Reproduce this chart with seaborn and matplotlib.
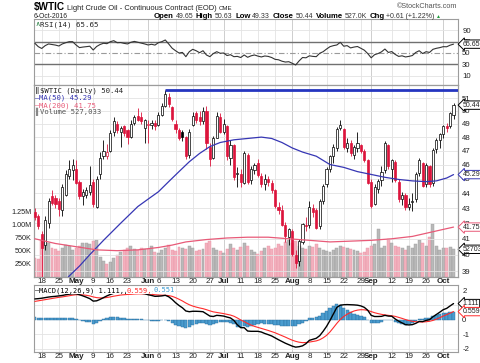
import numpy as np
import pandas as pd
import matplotlib
matplotlib.use("Agg")
import matplotlib.pyplot as plt
import matplotlib.transforms as mtransforms
from matplotlib.ticker import NullLocator, NullFormatter
import seaborn as sns

# ---- values ----
holidays = ["2016-05-30", "2016-07-04", "2016-09-05"]
dates = pd.bdate_range("2016-04-14", "2016-10-06", freq="C", holidays=holidays)

prior_close = 43.0
open_ = [42.75, 42.50, 41.30, 40.60, 42.00, 43.80, 43.65, 43.50, 42.90, 43.90, 45.20, 45.60,
         45.70, 44.80, 43.80, 43.90, 44.10, 44.80, 43.10, 45.30, 46.60, 46.60, 47.00, 48.40, 49.00, 48.35, 48.80,
         48.50, 48.00, 49.10, 49.60, 49.50, 48.70,
         48.90, 48.90, 49.10, 48.90, 49.70, 50.40, 51.10, 50.30, 49.00, 48.50, 48.35, 48.00, 46.70, 48.90, 49.80,
         49.50, 49.20, 50.00, 47.30, 46.50, 47.95, 49.50,
         48.40, 48.80, 46.50, 47.40, 45.30, 45.30, 44.70, 46.70, 44.90, 45.60, 46.10, 45.20, 44.60, 45.00, 44.70,
         44.20, 43.10, 42.90, 41.90, 41.10,
         41.50, 40.00, 39.60, 40.80, 41.90, 41.90, 43.00, 42.90, 41.80, 43.50, 44.60, 45.70, 46.60, 47.20, 48.70,
         48.60, 47.20, 47.60, 46.70, 47.20, 47.40, 47.00, 46.30,
         44.80, 43.30, 44.30, 44.90, 45.60, 47.40, 45.70, 46.20, 44.80, 43.60, 43.90, 43.10, 43.40, 43.60, 45.40,
         46.10, 44.60, 45.90, 44.70, 47.10, 47.80,
         48.20, 48.80, 48.80, 49.65]
high = [43.00, 42.60, 41.50, 42.50, 43.70, 44.20, 43.90, 43.70, 44.60, 45.60, 46.30, 46.40,
        46.30, 44.90, 44.30, 44.40, 45.90, 45.00, 45.20, 46.90, 47.80, 47.50, 48.50, 49.50, 49.20, 48.80, 48.90,
        48.60, 49.30, 49.70, 50.20, 49.90, 49.40,
        49.30, 49.30, 49.30, 49.90, 50.60, 51.67, 51.40, 50.40, 49.30, 48.70, 48.50, 48.10, 48.60, 49.90, 50.00,
        50.00, 50.30, 50.40, 47.60, 48.10, 49.90, 49.80,
        49.40, 48.90, 47.80, 47.50, 45.80, 45.70, 47.00, 46.80, 45.90, 46.10, 46.40, 45.40, 45.30, 45.20, 44.90,
        44.30, 43.40, 43.20, 42.10, 41.70,
        41.60, 40.30, 41.00, 42.00, 42.40, 43.50, 43.30, 43.00, 43.60, 44.60, 45.80, 46.70, 47.50, 48.75, 49.30,
        48.70, 47.90, 47.80, 47.40, 48.40, 47.50, 47.10, 46.40,
        45.00, 44.60, 45.00, 45.90, 47.70, 47.50, 46.40, 46.30, 45.00, 44.10, 44.00, 43.70, 44.00, 45.50, 46.50,
        46.20, 46.10, 46.00, 47.20, 47.90, 48.30,
        48.90, 49.10, 49.90, 50.63]
low = [42.20, 41.60, 37.60, 40.30, 41.70, 43.20, 43.00, 42.50, 42.50, 43.80, 45.00, 44.90,
       44.60, 43.60, 43.20, 43.70, 43.90, 43.10, 43.00, 45.00, 46.40, 46.40, 46.90, 48.10, 48.30, 47.30, 48.10,
       47.50, 47.90, 48.90, 49.20, 49.00, 47.60,
       47.60, 48.60, 48.50, 48.80, 49.60, 50.30, 50.30, 49.20, 48.30, 47.80, 47.70, 46.40, 46.50, 48.80, 49.10,
       48.90, 49.00, 47.10, 45.90, 46.40, 47.90, 48.30,
       48.20, 46.30, 46.00, 44.90, 44.40, 44.40, 44.60, 44.60, 44.60, 45.30, 45.10, 44.40, 44.20, 44.50, 44.00,
       43.00, 42.60, 41.80, 40.80, 40.60,
       39.90, 39.20, 39.30, 40.70, 41.50, 41.70, 42.40, 41.60, 41.60, 43.30, 44.40, 45.50, 46.10, 47.00, 48.50,
       47.10, 46.90, 46.60, 46.40, 46.90, 46.80, 46.20, 44.60,
       43.00, 43.20, 44.00, 44.50, 45.40, 45.70, 44.80, 44.80, 43.40, 43.20, 42.90, 42.90, 42.80, 43.40, 45.20,
       44.40, 44.40, 44.40, 44.50, 46.80, 47.20,
       47.90, 48.40, 48.70, 49.33]
close = [42.40, 41.80, 40.40, 42.20, 43.50, 43.35, 43.25, 42.95, 44.40, 45.30, 45.70, 46.00,
         44.70, 43.80, 44.10, 44.20, 44.55, 43.30, 45.00, 46.50, 47.00, 46.90, 48.30, 49.20, 48.50, 48.65, 48.30,
         48.00, 49.00, 49.50, 49.30, 49.20, 49.30,
         49.00, 49.10, 48.80, 49.70, 50.40, 51.30, 50.50, 49.40, 48.60, 47.90, 48.00, 46.60, 48.40, 49.60, 49.30,
         49.20, 50.00, 47.60, 46.40, 47.90, 49.60, 48.40,
         49.00, 46.60, 47.40, 45.15, 45.40, 44.75, 46.80, 44.75, 45.70, 45.95, 45.25, 44.65, 44.95, 44.75, 44.20,
         43.15, 42.90, 41.90, 41.15, 41.60,
         40.05, 39.50, 40.85, 41.95, 41.80, 43.05, 42.75, 41.70, 43.50, 44.50, 45.70, 46.60, 47.30, 48.60, 48.90,
         47.30, 47.60, 46.80, 47.30, 47.60, 47.00, 46.35, 44.70,
         43.15, 44.45, 44.85, 45.50, 47.60, 45.90, 46.30, 44.90, 43.60, 43.90, 43.05, 43.30, 43.45, 45.35, 46.30,
         44.50, 45.95, 44.65, 47.05, 47.80, 48.25,
         48.80, 48.70, 49.83, 50.44]
volume_k = [360, 340, 700, 660, 640, 560, 540, 500, 560, 610, 590, 520,
            560, 590, 640, 650, 620, 690, 700, 380, 300, 240, 280, 360, 420, 480, 520, 560, 600, 540, 520, 560, 540,
            540, 600, 480, 460, 520, 560, 610, 520, 500, 580, 560, 540, 600, 560, 500, 520, 540, 640, 680, 560, 520, 500,
            460, 540, 620, 560, 520, 580, 640, 600, 520, 480, 440, 500, 560, 600, 540, 560, 620, 600, 660, 700,
            640, 680, 600, 560, 540, 600, 580, 620, 560, 520, 500, 480, 520, 560, 600, 580, 560, 540, 520, 500, 460, 480, 560,
            600, 620, 915, 560, 600, 720, 650, 600, 580, 560, 520, 590, 560, 620, 700, 650, 600, 760, 1010, 600, 520,
            560, 560, 570, 527.033]
rsi = [67.2, 61.2, 58, 63, 66, 65, 64, 62.4, 66, 68.2, 70, 70,
       64.2, 59.5, 60.5, 61.2, 62, 55.3, 61.5, 65, 67.2, 66.5, 70, 71.8, 68.2, 68.5, 67, 66, 69, 70.5, 69, 67.5, 66,
       64.2, 65.4, 64, 68.2, 70, 73, 66, 58.5, 54, 50, 51, 43.5, 52.3, 56.5, 54, 50.5, 54, 46.5, 43.5, 49, 52.3, 49.5,
       50, 45.5, 47, 43.5, 44, 42, 46.5, 42.4, 45, 46.5, 44.5, 43, 44.7, 44, 42, 38.8, 38, 35.5, 34, 34.6,
       31.8, 28.8, 36, 42, 41.5, 45, 44, 43.5, 49.5, 52.3, 57, 61.2, 63, 64.2, 68.9, 62, 63, 59, 60.5, 61.5, 58.3, 55, 49,
       41.5, 47, 49, 52, 57, 51, 52.5, 47.5, 44, 45, 43, 44, 45.5, 51, 54, 49, 52.3, 51, 56.5, 58.3, 59.5,
       61.2, 61, 63.8, 65.65]
macd = [1.43, 1.45, 1.48, 1.52, 1.56, 1.59, 1.61, 1.64, 1.67, 1.72, 1.76, 1.79,
        1.79, 1.72, 1.64, 1.55, 1.45, 1.28, 1.30, 1.40, 1.52, 1.64, 1.74, 1.82, 1.84, 1.85, 1.84, 1.82, 1.83, 1.85,
        1.84, 1.82, 1.79,
        1.72, 1.67, 1.61, 1.62, 1.64, 1.68, 1.58, 1.40, 1.17, 0.98, 0.82, 0.60, 0.55, 0.58, 0.58, 0.57, 0.55, 0.40,
        0.25, 0.22, 0.30, 0.28,
        0.25, 0.18, 0.12, -0.05, -0.35, -0.55, -0.55, -0.78, -0.80, -0.80, -0.80, -0.85, -0.95, -1.03, -1.12, -1.25,
        -1.38, -1.50, -1.62, -1.72,
        -1.82, -1.89, -1.86, -1.80, -1.65, -1.42, -1.35, -1.28, -1.10, -0.80, -0.46, -0.05, 0.40, 0.85, 1.00, 1.03,
        1.04, 1.03, 1.02, 1.00, 0.95, 0.85, 0.65,
        0.30, 0.22, 0.22, 0.23, 0.30, 0.25, 0.24, 0.05, -0.10, -0.22, -0.34, -0.36, -0.34, -0.25, -0.12, -0.13, -0.05,
        0.00, 0.20, 0.36, 0.52,
        0.69, 0.78, 0.95, 1.111]
signal = [1.26, 1.30, 1.34, 1.38, 1.42, 1.46, 1.50, 1.54, 1.57, 1.61, 1.65, 1.69,
          1.72, 1.72, 1.71, 1.68, 1.64, 1.57, 1.52, 1.50, 1.50, 1.53, 1.57, 1.62, 1.66, 1.70, 1.72, 1.74, 1.75, 1.77,
          1.78, 1.78, 1.78,
          1.77, 1.75, 1.72, 1.70, 1.69, 1.68, 1.66, 1.61, 1.52, 1.41, 1.29, 1.15, 1.03, 0.94, 0.87, 0.81, 0.76, 0.69,
          0.61, 0.54, 0.50, 0.46,
          0.42, 0.37, 0.32, 0.24, 0.12, -0.02, -0.13, -0.26, -0.37, -0.46, -0.53, -0.60, -0.67, -0.74, -0.82, -0.90,
          -1.00, -1.10, -1.20, -1.31,
          -1.41, -1.49, -1.55, -1.58, -1.57, -1.54, -1.50, -1.46, -1.38, -1.25, -1.08, -0.84, -0.55, -0.25, 0.02, 0.22,
          0.38, 0.50, 0.60, 0.66, 0.69, 0.68, 0.64,
          0.56, 0.48, 0.42, 0.37, 0.33, 0.30, 0.27, 0.23, 0.16, 0.09, 0.01, -0.06, -0.11, -0.14, -0.15, -0.16, -0.14,
          -0.11, -0.05, 0.04, 0.14,
          0.25, 0.35, 0.45, 0.559]

ma50_dates = ["2016-04-26", "2016-04-28", "2016-05-03", "2016-05-06", "2016-05-12", "2016-05-19", "2016-05-26",
              "2016-06-01", "2016-06-06", "2016-06-09", "2016-06-14", "2016-06-17", "2016-06-22", "2016-06-27",
              "2016-06-30", "2016-07-07", "2016-07-13", "2016-07-19", "2016-07-22", "2016-07-27", "2016-08-01",
              "2016-08-04", "2016-08-10", "2016-08-16", "2016-08-22", "2016-08-26", "2016-09-01", "2016-09-08",
              "2016-09-14", "2016-09-20", "2016-09-26", "2016-09-29", "2016-10-04", "2016-10-06"]
ma50 = [38.2, 38.7, 39.3, 40.0, 40.9, 42.0, 43.1, 43.6, 44.1, 44.8, 45.5, 46.2, 46.8, 47.3, 47.6, 47.8, 47.9,
        48.0, 47.9, 47.6, 47.2, 46.9, 46.6, 46.0, 45.8, 45.5, 45.3, 45.1, 44.95, 44.85, 44.8, 44.85, 45.05, 45.29]
ma200_dates = ["2016-04-14", "2016-04-22", "2016-05-02", "2016-05-10", "2016-05-18", "2016-05-26", "2016-06-06",
               "2016-06-10", "2016-06-16", "2016-06-24", "2016-07-05", "2016-07-13", "2016-07-21", "2016-07-29",
               "2016-08-08", "2016-08-16", "2016-08-24", "2016-09-01", "2016-09-12", "2016-09-20", "2016-09-28",
               "2016-10-06"]
ma200 = [41.0, 40.7, 40.5, 40.3, 40.25, 40.3, 40.45, 40.6, 40.8, 40.95, 41.05, 41.1, 41.1, 41.0, 40.9, 40.8,
         40.85, 40.9, 41.0, 41.15, 41.45, 41.75]
resistance = 51.67
resistance_from = "2016-06-08"

tick_dates = ["2016-04-18", "2016-04-25", "2016-05-02", "2016-05-09", "2016-05-16", "2016-05-23", "2016-06-01",
              "2016-06-06", "2016-06-13", "2016-06-20", "2016-06-27", "2016-07-01", "2016-07-11", "2016-07-18",
              "2016-07-25", "2016-08-01", "2016-08-08", "2016-08-15", "2016-08-22", "2016-08-29", "2016-09-01",
              "2016-09-12", "2016-09-19", "2016-09-26", "2016-10-03"]
tick_labels = ["18", "25", "May", "9", "16", "23", "Jun", "6", "13", "20", "27", "Jul", "11", "18", "25", "Aug",
               "8", "15", "22", "29", "Sep", "12", "19", "26", "Oct"]
months = {"May", "Jun", "Jul", "Aug", "Sep", "Oct"}

# ---- style ----
sns.set_theme(style="white")
plt.rcParams["font.family"] = ["Liberation Sans", "DejaVu Sans"]
plt.rcParams["axes.unicode_minus"] = False

W, H = 480, 363
L, R = 34, 458
RED = "#dc143c"
BLUE = "#3636b4"
PINK = "#e85a78"
GRID = "#e3e3e3"
MONTH_GRID = "#c6c6c6"
TXT = "#222222"
MONO = ["DejaVu Sans Mono"]

x = np.arange(len(dates))
o, hi, lo, c = (np.array(v) for v in (open_, high, low, close))
prev = np.r_[prior_close, c[:-1]]
up = c >= prev
col = np.where(up, "black", RED)

fig = plt.figure(figsize=(W / 100, H / 100), dpi=100)
fig.patch.set_facecolor("white")


def rect(top, bottom):
    return [L / W, 1 - bottom / H, (R - L) / W, (bottom - top) / H]


ax_rsi = fig.add_axes(rect(18.5, 85))
ax_vol = fig.add_axes(rect(85, 276.5))
ax_px = fig.add_axes(rect(85, 276.5))
ax_macd = fig.add_axes(rect(285, 351.5))
ax_px.patch.set_visible(False)

tick_pos = dates.get_indexer(pd.to_datetime(tick_dates))

for ax in (ax_rsi, ax_vol, ax_px, ax_macd):
    ax.set_xlim(-0.25, 123.3)
    ax.set_xticks(tick_pos)
    ax.set_xticklabels(tick_labels)
    ax.tick_params(axis="x", length=0, labelbottom=False, labelsize=5.8, labelcolor=TXT, pad=1.0)
    ax.tick_params(axis="y", length=0, labelsize=5.6, labelcolor=TXT, pad=3)
    for s in ax.spines.values():
        s.set_color("#9c9c9c")
        s.set_linewidth(0.8)
    ax.grid(False)

for ax in (ax_rsi, ax_vol, ax_macd):
    for p, lab in zip(tick_pos, tick_labels):
        ax.axvline(p, color=MONTH_GRID if lab in months else GRID, lw=0.6, zorder=0)

for ax in (ax_px, ax_macd):
    ax.tick_params(axis="x", labelbottom=True)
    for t in ax.get_xticklabels():
        if t.get_text() in months:
            t.set_fontweight("bold")

# RSI panel
ax_rsi.set_ylim(-6.6, 111)
for lvl in (10, 90):
    ax_rsi.axhline(lvl, color=GRID, lw=0.6, zorder=0)
ax_rsi.axhline(70, color="#707070", lw=1.0, zorder=1)
ax_rsi.axhline(30, color="#707070", lw=1.0, zorder=1)
ax_rsi.axhline(50, color="#9a9a9a", lw=0.8, ls=(0, (5, 2, 1, 2)), zorder=1)
sns.lineplot(x=x, y=rsi, ax=ax_rsi, color="#333333", lw=0.8, legend=False, zorder=3)
ax_rsi.yaxis.tick_right()
ax_rsi.set_yticks([10, 30, 50, 70, 90])
ax_rsi.set_xlabel("")
ax_rsi.set_ylabel("")

# volume under the price candles
vol = np.array(volume_k) * 1000
ax_vol.bar(x, vol, width=0.86, color=np.where(up, "#b9b9b9", "#f3b0bd"),
           edgecolor=np.where(up, "#9c9c9c", "#e995a6"), linewidth=0.3, zorder=2)
ax_vol.set_ylim(0, 3.71e6)
ax_vol.set_yticks([250e3, 500e3, 750e3, 1e6, 1.25e6])
ax_vol.set_yticklabels(["250K", "500K", "750K", "1.00M", "1.25M"])
ax_vol.tick_params(axis="y", labelsize=5.2, pad=1.5)

# price panel (log scale)
ax_px.set_yscale("log")
ax_px.set_ylim(38.67, 52.04)
ax_px.yaxis.tick_right()
price_ticks = list(range(39, 52))
ax_px.set_yticks(price_ticks)
ax_px.set_yticklabels([str(v) for v in price_ticks])
ax_px.yaxis.set_minor_locator(NullLocator())
ax_px.yaxis.set_minor_formatter(NullFormatter())
for v in price_ticks:
    ax_px.axhline(v, color=GRID, lw=0.6, zorder=0)

ax_px.vlines(x, lo, hi, colors=col, lw=0.6, zorder=3)
body_lo = np.minimum(o, c)
body_h = np.maximum(np.abs(c - o), 0.05)
fill = np.where(c < o, col, "white")
ax_px.bar(x, body_h, bottom=body_lo, width=0.62, color=fill, edgecolor=col, linewidth=0.5, zorder=4)

ma50_pos = dates.get_indexer(pd.to_datetime(ma50_dates))
ma200_pos = dates.get_indexer(pd.to_datetime(ma200_dates))
sns.lineplot(x=ma50_pos, y=ma50, ax=ax_px, color=BLUE, lw=0.9, legend=False, zorder=5)
sns.lineplot(x=ma200_pos, y=ma200, ax=ax_px, color=PINK, lw=0.9, legend=False, zorder=5)
ax_px.hlines(resistance, dates.get_loc(pd.Timestamp(resistance_from)), 123.3, color="#2535c0", lw=2.0, zorder=6)
ax_px.set_xlabel("")
ax_px.set_ylabel("")

# MACD panel
hist = np.array(macd) - np.array(signal)
ax_macd.bar(x, hist, width=0.95, color="#4a9ccf", edgecolor="#2a6e9e", linewidth=0.3, zorder=2)
sns.lineplot(x=x, y=signal, ax=ax_macd, color="#ff2b2b", lw=0.8, legend=False, zorder=3)
sns.lineplot(x=x, y=macd, ax=ax_macd, color="black", lw=1.0, legend=False, zorder=4)
ax_macd.set_ylim(-2.19, 2.39)
ax_macd.yaxis.tick_right()
ax_macd.set_yticks([-2, -1, 0, 1, 2])
for v in (-2, -1, 1, 2):
    ax_macd.axhline(v, color=GRID, lw=0.6, zorder=0)
ax_macd.set_xlabel("")
ax_macd.set_ylabel("")


# value tags on the right edge
def tag(ax, y, s, edge):
    tr = mtransforms.blended_transform_factory(ax.transAxes, ax.transData)
    ax.text(1 + 4.5 / (R - L), y, s, transform=tr, ha="left", va="center", fontsize=5.0, color=TXT,
            clip_on=False, zorder=20,
            bbox=dict(boxstyle="larrow,pad=0.1", fc="white", ec=edge, lw=0.7))


tag(ax_rsi, rsi[-1], "65.65", "black")
tag(ax_px, close[-1], "50.44", "black")
tag(ax_px, ma50[-1], "45.29", BLUE)
tag(ax_px, ma200[-1], "41.75", PINK)
tag(ax_vol, vol[-1], "527033", "black")
tag(ax_macd, macd[-1], "1.111", "black")
tag(ax_macd, signal[-1], "0.559", "#ff2b2b")

# header and legends (pixel positions)
renderer = fig.canvas.get_renderer()


def run(x0, y0, parts):
    for s, gap, kw in parts:
        t = fig.text(x0 / W, 1 - y0 / H, s, ha="left", va="baseline", **kw)
        x0 += t.get_window_extent(renderer).width + gap


run(34, 10, [("$WTIC", 2, dict(fontsize=7.2, fontweight="bold", color="black")),
             ("Light Crude Oil - Continuous Contract (EOD)", 2.5, dict(fontsize=5.4, color=TXT)),
             ("CME", 0, dict(fontsize=4.4, color=TXT))])
fig.text(34 / W, 1 - 18 / H, "6-Oct-2016", fontsize=4.9, color=TXT, ha="left", va="baseline")
key = dict(fontsize=5.6, fontweight="bold", color="black")
val = dict(fontsize=5.0, color="#333333")
run(154, 18, [("Open", 1.5, key), ("49.65", 3, val), ("High", 1.5, key), ("50.63", 3, val),
              ("Low", 1.5, key), ("49.33", 3, val), ("Close", 1.5, key), ("50.44", 3, val),
              ("Volume", 1.5, key), ("527.0K", 3, val), ("Chg", 1.5, key), ("+0.61 (+1.22%)", 1.5, val),
              ("\u25b2", 0, dict(fontsize=3.6, color="#1e9a3a"))])
fig.text(457 / W, 1 - 8.5 / H, "\u00a9StockCharts.com", fontsize=5.2, color="#555555", ha="right",
         va="baseline")

run(35, 26.5, [("\u2227", 0.5, dict(fontsize=5.2, color="#1e7a3a", family=MONO)),
               ("RSI(14) 65.65", 0, dict(fontsize=5.3, color=TXT, family=MONO))])
run(35, 92.5, [("\u2016", 0.5, dict(fontsize=5.2, color="black", family=MONO)),
               ("$WTIC (Daily) 50.44", 0, dict(fontsize=5.2, color=TXT, family=MONO))])
run(35, 99.8, [("\u2014", 0, dict(fontsize=5.2, color=BLUE, family=MONO)),
               ("MA(50) 45.29", 0, dict(fontsize=5.2, color=BLUE, family=MONO))])
run(35, 107.1, [("\u2014", 0, dict(fontsize=5.2, color=PINK, family=MONO)),
                ("MA(200) 41.75", 0, dict(fontsize=5.2, color=PINK, family=MONO))])
run(35, 114.4, [("\u258c", 0.5, dict(fontsize=5.0, color="#888888", family=MONO)),
                ("Volume 527,033", 0, dict(fontsize=5.2, color="#555555", family=MONO))])
wbox = dict(fc="white", ec="none", pad=0.3)
run(35, 292.5, [("\u2014", 0, dict(fontsize=5.0, color="black", family=MONO, bbox=wbox)),
                ("MACD(12,26,9) 1.111,", 2, dict(fontsize=5.0, color="black", family=MONO, bbox=wbox)),
                ("0.559,", 2, dict(fontsize=5.0, color="#ff2b2b", family=MONO, bbox=wbox)),
                ("0.551", 0, dict(fontsize=5.0, color="#3a9ad0", family=MONO, bbox=wbox))])

fig.savefig("out.png", dpi=100, facecolor="white")
